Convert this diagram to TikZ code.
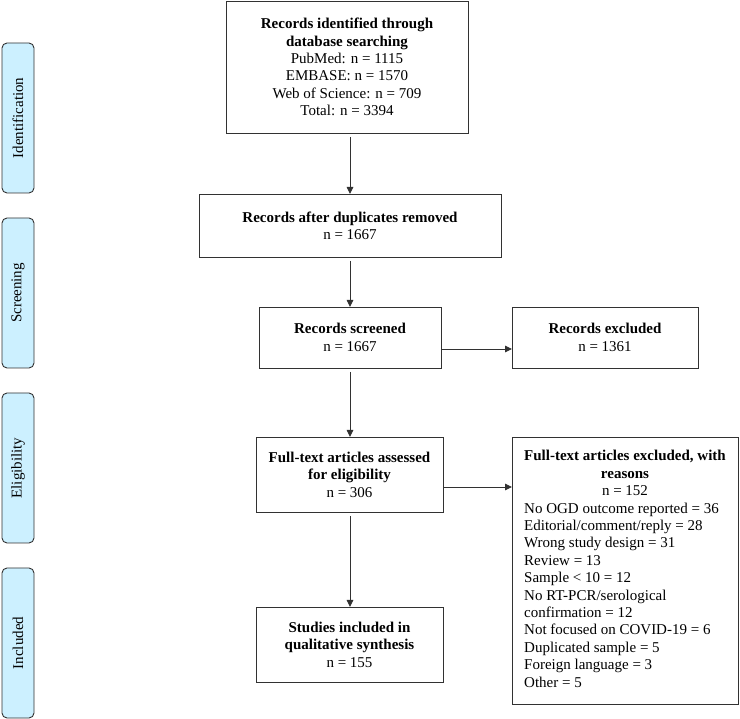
\documentclass[tikz,border=0pt]{standalone}
\usepackage{fontspec}
\setmainfont{Liberation Serif}
\usetikzlibrary{arrows.meta}
\definecolor{labfill}{RGB}{204,240,255}
\definecolor{linec}{RGB}{50,50,50}
\begin{document}
\begin{tikzpicture}[x=1pt,y=-1pt,
  every node/.style={font=\fontsize{15}{17.4}\selectfont, inner sep=0pt, outer sep=0pt},
  box/.style={draw=linec, line width=0.9pt, fill=white, align=center},
  lab/.style={draw=linec, line width=0.9pt, fill=labfill, rounded corners=5pt,
              minimum width=32pt, minimum height=150pt, inner sep=0pt},
  arr/.style={draw=linec, line width=0.9pt, -{Triangle[length=7pt,width=6.5pt]}}]
\useasboundingbox (0,0) rectangle (740,719);

% stage labels
\node[lab] (lid) at (18,118) {};
\node[rotate=90] at (lid.center) {Identification};
\node[lab] (lsc) at (18,293) {};
\node[rotate=90] at (lsc.center) {Screening};
\node[lab] (lel) at (18,468) {};
\node[rotate=90] at (lel.center) {Eligibility};
\node[lab] (lin) at (18,643) {};
\node[rotate=90] at (lin.center) {Included};

% boxes
\node[box, minimum width=242pt, minimum height=132pt] (top) at (347,67)
  {\textbf{Records identified through}\\ \textbf{database searching}\\ PubMed: n = 1115\\ EMBASE: n = 1570\\ Web of Science: n = 709\\ Total: n = 3394};
\node[box, minimum width=302pt, minimum height=63pt] (dup) at (350,225.5)
  {\textbf{Records after duplicates removed}\\ n = 1667};
\node[box, minimum width=182pt, minimum height=61pt] (scr) at (350,337.5)
  {\textbf{Records screened}\\ n = 1667};
\node[box, minimum width=186pt, minimum height=61pt] (exc) at (605,337.5)
  {\textbf{Records excluded}\\ n = 1361};
\node[box, minimum width=187pt, minimum height=75pt] (ass) at (349.5,474.5)
  {\textbf{Full-text articles assessed}\\ \textbf{for eligibility}\\ n = 306};
\node[box, minimum width=226pt, minimum height=267pt] (ftx) at (625,570.5)
  {\begin{tabular}{@{}l@{}}
   \multicolumn{1}{@{}c@{}}{\textbf{Full-text articles excluded, with}}\\
   \multicolumn{1}{@{}c@{}}{\textbf{reasons}}\\
   \multicolumn{1}{@{}c@{}}{n = 152}\\
   No OGD outcome reported = 36\\
   Editorial/comment/reply = 28\\
   Wrong study design = 31\\
   Review = 13\\
   Sample < 10 = 12\\
   No RT-PCR/serological\\
   confirmation = 12\\
   Not focused on COVID-19 = 6\\
   Duplicated sample = 5\\
   Foreign language = 3\\
   Other = 5
   \end{tabular}};
\node[box, minimum width=187pt, minimum height=75pt] (inc) at (349.5,644.5)
  {\textbf{Studies included in}\\ \textbf{qualitative synthesis}\\ n = 155};

% connectors
\draw[arr] (top.south -| dup.north) ++(0,-4pt) -- (dup.north);
\draw[arr] (dup.south -| scr.north) ++(0,-4pt) -- (scr.north);
\draw[arr] (scr.south) ++(0,-4pt) -- (ass.north -| scr.south);
\draw[arr] (ass.south -| scr.south) ++(0,-4pt) -- (inc.north -| scr.south);
\coordinate (h1) at ([yshift=-11.5pt]scr.east);
\draw[arr] (h1) -- (h1 -| exc.west);
\coordinate (h2) at ([yshift=-12.5pt]ass.east);
\draw[arr] (h2) -- (h2 -| ftx.west);
\end{tikzpicture}
\end{document}
